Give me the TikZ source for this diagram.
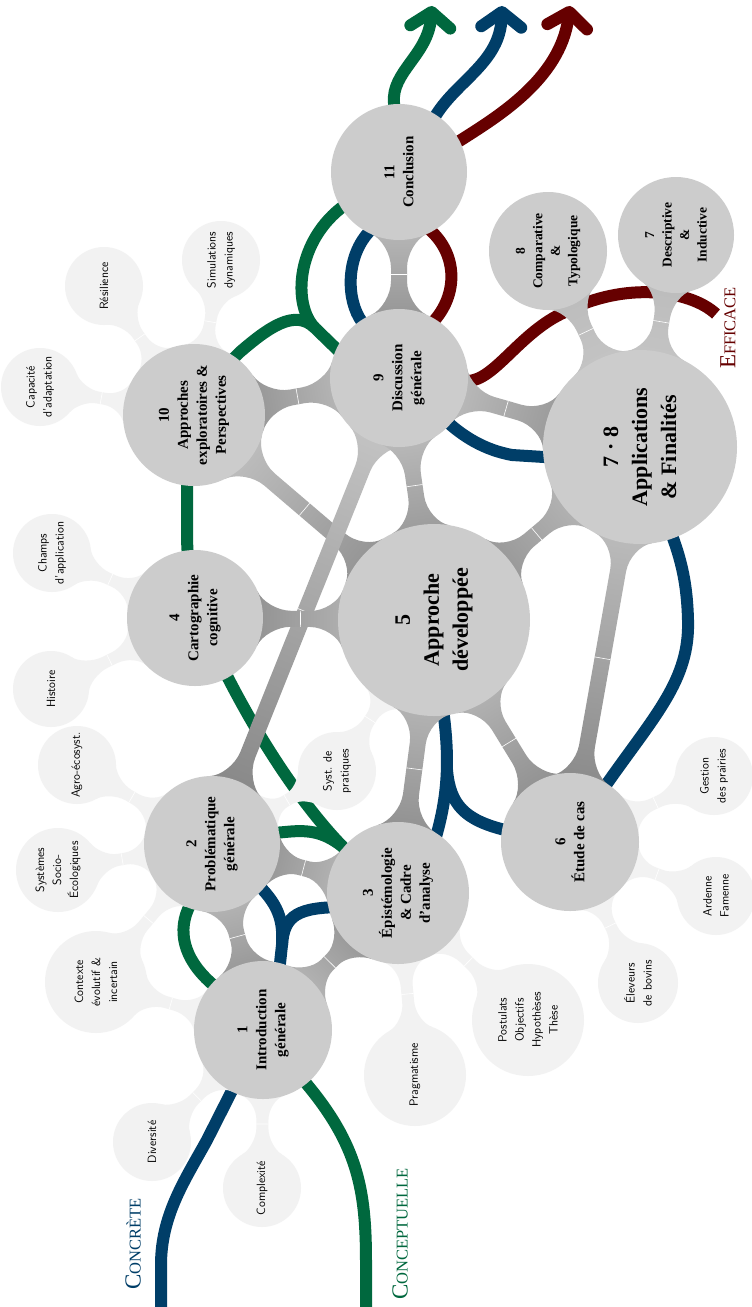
\documentclass[tikz,border=0pt]{standalone}
\usepackage{fontspec}
\setmainfont{Liberation Serif}
\usetikzlibrary{arrows.meta}
\definecolor{cgreen}{RGB}{0,104,62}
\definecolor{cblue}{RGB}{0,62,104}
\definecolor{cred}{RGB}{102,0,0}
\pgfdeclarelayer{rib}
\pgfdeclarelayer{bars}
\pgfsetlayers{rib,bars,main}
\def\cbfac{0.4}\def\cbcap{3.6}\def\cbslen{28}
\makeatletter
\newcommand\cbradius[2]{%
  \pgfpointdiff{\pgfpointanchor{#1}{center}}{\pgfpointanchor{#1}{east}}%
  \edef\cb@dx{\the\pgf@x}\edef\cb@dy{\the\pgf@y}%
  \pgfmathsetmacro#2{veclen(\cb@dx,\cb@dy)}%
}
\newcommand\cbar[5]{%
  \begingroup
  \pgfpointdiff{\pgfpointanchor{#1}{center}}{\pgfpointanchor{#2}{center}}%
  \edef\cb@dx{\the\pgf@x}\edef\cb@dy{\the\pgf@y}%
  \pgfmathsetmacro\cb@L{veclen(\cb@dx,\cb@dy)}%
  \pgfmathsetmacro\cb@ang{atan2(\cb@dy,\cb@dx)}%
  \cbradius{#1}{\cb@ra}%
  \cbradius{#2}{\cb@rb}%
  \pgfmathsetmacro\cb@w{#3}%
  \pgfmathsetmacro\cb@fa{min(\cbfac*\cb@ra,\cbcap*\cb@w)}%
  \pgfmathsetmacro\cb@fb{min(\cbfac*\cb@rb,\cbcap*\cb@w)}%
  \pgfmathsetmacro\cb@s{min(\cbslen,0.42*(\cb@L-\cb@ra-\cb@rb))}%
  \pgfmathsetmacro\cb@ca{sqrt(\cb@ra*\cb@ra-\cb@fa*\cb@fa)}%
  \pgfmathsetmacro\cb@cb{sqrt(\cb@rb*\cb@rb-\cb@fb*\cb@fb)}%
  \pgfmathsetmacro\cb@xa{\cb@ca}%
  \pgfmathsetmacro\cb@xb{\cb@L-\cb@cb}%
  \pgfmathsetmacro\cb@ka{0.55*(\cb@fa-\cb@w)}%
  \pgfmathsetmacro\cb@kb{0.55*(\cb@fb-\cb@w)}%
  \pgfmathsetmacro\cb@pax{\cb@xa+\cb@ka*\cb@fa/\cb@ra}%
  \pgfmathsetmacro\cb@pay{\cb@fa-\cb@ka*\cb@ca/\cb@ra}%
  \pgfmathsetmacro\cb@pbx{\cb@xb-\cb@kb*\cb@fb/\cb@rb}%
  \pgfmathsetmacro\cb@pby{\cb@fb-\cb@kb*\cb@cb/\cb@rb}%
  \pgfmathsetmacro\cb@na{\cb@ra+\cb@s}%
  \pgfmathsetmacro\cb@nb{\cb@L-\cb@rb-\cb@s}%
  \pgfmathsetmacro\cb@qa{\cb@na-0.5*\cb@s}%
  \pgfmathsetmacro\cb@qb{\cb@nb+0.5*\cb@s}%
  \pgfmathsetmacro\cb@mid{0.5*(\cb@ra+\cb@L-\cb@rb)}%
  \begin{scope}[overlay,transform canvas={shift={(#1)},rotate=\cb@ang}]
    \shade[left color=#4,right color=#5]
      (0,\cb@fa) -- (\cb@xa,\cb@fa) .. controls (\cb@pax,\cb@pay) and (\cb@qa,\cb@w) .. (\cb@na,\cb@w)
      -- (\cb@nb,\cb@w) .. controls (\cb@qb,\cb@w) and (\cb@pbx,\cb@pby) .. (\cb@xb,\cb@fb)
      -- (\cb@L,\cb@fb) -- (\cb@L,-\cb@fb) -- (\cb@xb,-\cb@fb)
      .. controls (\cb@pbx,-\cb@pby) and (\cb@qb,-\cb@w) .. (\cb@nb,-\cb@w)
      -- (\cb@na,-\cb@w) .. controls (\cb@qa,-\cb@w) and (\cb@pax,-\cb@pay) .. (\cb@xa,-\cb@fa)
      -- (0,-\cb@fa) -- cycle;
    \draw[white,line width=0.6pt] (\cb@mid,-\cb@w) -- (\cb@mid,\cb@w);
  \end{scope}
  \endgroup
}
\makeatother
\newcommand\fsc[2]{{\fontsize{23}{23}\selectfont #1}{\fontsize{16.5}{16.5}\selectfont #2}}
\tikzset{
  bign/.style={circle, fill=black!20, inner sep=0pt, outer sep=0pt, rotate=90, align=center,
    font=\bfseries\fontsize{15}{19}\selectfont},
  bigfont/.style={font=\bfseries\fontsize{22}{29}\selectfont},
  smallfont/.style={font=\bfseries\fontsize{13.5}{17.5}\selectfont},
  sat/.style={circle, fill=black!5, inner sep=0pt, outer sep=0pt, rotate=90, align=center,
    font=\sffamily\fontsize{12}{17}\selectfont},
  ribbon/.style={line width=12pt},
  tip/.style={-{Straight Barb[length=15pt,width=40pt,round]}},
  lbl/.style={rotate=90, inner sep=0pt}
}
\begin{document}
\begin{tikzpicture}[x=1pt,y=1pt]
\useasboundingbox (0,0) rectangle (752,-1307);

% ---------- main concepts ----------
\node[bign, minimum size=138pt] (n1) at (263,-1030) {1\\Introduction\\générale};
\node[bign, minimum size=136pt] (n2) at (212,-844) {2\\Problématique\\générale};
\node[bign, minimum size=142pt] (n3) at (398,-893) {3\\Épistémologie\\\& Cadre\\d’analyse};
\node[bign, minimum size=136pt] (n4) at (195,-618) {4\\Cartographie\\cognitive};
\node[bign, bigfont, minimum size=192pt] (n5) at (434,-620) {5\\Approche\\développée};
\node[bign, minimum size=138pt] (n6) at (570,-842) {6\\Étude de cas};
\node[bign, bigfont, minimum size=194pt] (n78) at (640,-447) {7 · 8\\Applications\\\& Finalités};
\node[bign, minimum size=138pt] (n9) at (399,-378) {9\\Discussion\\générale};
\node[bign, minimum size=142pt] (n10) at (194,-415) {10\\Approches\\exploratoires \&\\Perspectives};
\node[bign, minimum size=136pt] (n11) at (399,-172) {11\\Conclusion};
\node[bign, smallfont, minimum size=116pt] (n7) at (676,-235) {7\\Descriptive\\\&\\Inductive};
\node[bign, smallfont, minimum size=118pt] (n8) at (548,-251) {8\\Comparative\\\&\\Typologique};

% ---------- satellites ----------
\node[sat, minimum size=78pt] (sSim) at (221,-260) {Simulations\\dynamiques};
\node[sat, minimum size=78pt] (sRes) at (104,-286) {Résilience};
\node[sat, minimum size=78pt] (sCap) at (40,-387) {Capacité\\d’adaptation};
\node[sat, minimum size=78pt] (sCha) at (52,-553) {Champs\\d’application};
\node[sat, minimum size=76pt] (sHis) at (51,-689) {Histoire};
\node[sat, minimum size=78pt] (sAgr) at (77,-765) {Agro-écosyst.};
\node[sat, minimum size=84pt] (sSys) at (58,-870) {Systèmes\\Socio-\\Écologiques};
\node[sat, minimum size=102pt] (sCtx) at (96,-982) {Contexte\\évolutif \&\\incertain};
\node[sat, minimum size=78pt] (sDiv) at (152,-1142) {Diversité};
\node[sat, minimum size=78pt] (sCom) at (262,-1188) {Complexité};
\node[sat, minimum size=102pt] (sPra) at (415,-1075) {Pragmatisme};
\node[sat, minimum size=112pt] (sPos) at (528,-1020) {Postulats\\Objectifs\\Hypothèses\\Thèse};
\node[sat, minimum size=80pt] (sEle) at (638,-983) {Éleveurs\\de bovins};
\node[sat, minimum size=78pt] (sArd) at (716,-896) {Ardenne\\Famenne};
\node[sat, minimum size=78pt] (sGes) at (714,-776) {Gestion\\des prairies};
\node[sat, minimum size=78pt] (sSyp) at (337,-771) {Syst. de\\pratiques};

% ---------- labels ----------
\node[lbl, text=cblue] (lConc) at (133,-1244) {\fsc{C}{ONCRÈTE}};
\node[lbl, text=cgreen] (lConcep) at (400,-1234) {\fsc{C}{ONCEPTUELLE}};
\node[lbl, text=cred] (lEff) at (728,-328) {\fsc{E}{FFICACE}};

% ---------- connection bars ----------
\begin{pgfonlayer}{bars}
  % light satellite bars
  \def\cbfac{0.5}\def\cbcap{3.5}\def\cbslen{22}
  \cbar{sSim}{n10}{6}{black!5}{black!5}
  \cbar{sRes}{n10}{6}{black!5}{black!5}
  \cbar{sCap}{n10}{6}{black!5}{black!5}
  \cbar{sCha}{n4}{6}{black!5}{black!5}
  \cbar{sHis}{n4}{6}{black!5}{black!5}
  \cbar{sAgr}{n2}{6}{black!5}{black!5}
  \cbar{sSys}{n2}{6}{black!5}{black!5}
  \cbar{sCtx}{n2}{6}{black!5}{black!5}
  \cbar{sCtx}{n1}{6}{black!5}{black!5}
  \cbar{sDiv}{n1}{6}{black!5}{black!5}
  \cbar{sCom}{n1}{6}{black!5}{black!5}
  \cbar{sPra}{n3}{6}{black!5}{black!5}
  \cbar{sPos}{n3}{6}{black!5}{black!5}
  \cbar{sEle}{n6}{6}{black!5}{black!5}
  \cbar{sArd}{n6}{6}{black!5}{black!5}
  \cbar{sGes}{n6}{6}{black!5}{black!5}
  \cbar{sSyp}{n2}{6}{black!5}{black!5}
  \cbar{sSyp}{n5}{6}{black!5}{black!5}
  % grey bars
  \def\cbfac{0.4}\def\cbcap{3.6}\def\cbslen{28}
  \cbar{n9}{n11}{8}{black!50}{black!20}
  \cbar{n10}{n9}{8}{black!50}{black!20}
  \cbar{n10}{n5}{8}{black!20}{black!50}
  \cbar{n2}{n9}{8}{black!50}{black!20}
  \cbar{n4}{n5}{8}{black!50}{black!20}
  \cbar{n9}{n5}{8}{black!20}{black!50}
  \cbar{n9}{n78}{8}{black!20}{black!50}
  \cbar{n5}{n78}{8}{black!50}{black!20}
  \cbar{n78}{n6}{8}{black!20}{black!50}
  \cbar{n5}{n6}{8}{black!20}{black!50}
  \cbar{n5}{n3}{8}{black!20}{black!50}
  \cbar{n2}{n3}{8}{black!50}{black!20}
  \cbar{n1}{n2}{8}{black!50}{black!20}
  \cbar{n1}{n3}{8}{black!20}{black!50}
  \cbar{n78}{n8}{8}{black!20}{black!28}
  \cbar{n78}{n7}{8}{black!20}{black!28}
\end{pgfonlayer}

% ---------- ribbons ----------
\begin{pgfonlayer}{rib}
  \fill[white] (0,0) rectangle (752,-1307);
  % blue : concrete
  \draw[ribbon,cblue] (161,-1307) -- (161,-1265) .. controls (161,-1215) and (185,-1180) .. (207,-1140) -- (250,-1055);
  \draw[ribbon,cblue] (276,-1000) -- (282,-945) .. controls (284,-915) and (275,-900) .. (250,-877);
  \draw[ribbon,cblue] (282,-945) .. controls (284,-915) and (298,-907) .. (345,-907);
  \draw[ribbon,cblue] (432,-850) .. controls (448,-800) and (452,-760) .. (440,-690);
  \draw[ribbon,cblue] (540,-838) -- (505,-830) .. controls (465,-820) and (450,-805) .. (447,-770);
  \draw[ribbon,cblue] (585,-805) -- (606,-785) .. controls (655,-715) and (690,-680) .. (688,-620) .. controls (687,-580) and (680,-555) .. (668,-525);
  \draw[ribbon,cblue] (560,-458) -- (512,-455) .. controls (485,-450) and (462,-437) .. (440,-415);
  \draw[ribbon,cblue] (378,-345) -- (362,-322) .. controls (346,-300) and (346,-258) .. (368,-233) -- (382,-215);
  \draw[ribbon,cblue,tip] (425,-140) -- (436,-115) .. controls (458,-80) and (500,-62) .. (502,-6);
  % green : conceptual
  \draw[ribbon,cgreen] (366,-1307) -- (366,-1262) .. controls (366,-1190) and (358,-1145) .. (305,-1082) -- (285,-1058);
  \draw[ribbon,cgreen] (228,-998) -- (211,-983) .. controls (183,-958) and (177,-930) .. (190,-905) -- (200,-885);
  \draw[ribbon,cgreen] (360,-865) -- (343,-847) .. controls (305,-808) and (262,-745) .. (225,-672) -- (212,-640);
  \draw[ribbon,cgreen] (262,-834) -- (285,-832) .. controls (305,-830) and (322,-830) .. (343,-847) -- (360,-865);
  \draw[ribbon,cgreen] (190,-600) -- (187,-540) -- (187,-440);
  \draw[ribbon,cgreen] (220,-372) -- (240,-352) .. controls (268,-328) and (295,-308) .. (315,-328) -- (350,-362);
  \draw[ribbon,cgreen] (360,-195) -- (345,-205) .. controls (296,-240) and (292,-305) .. (315,-328);
  \draw[ribbon,cgreen,tip] (398,-140) -- (394,-103) .. controls (391,-72) and (428,-55) .. (432,-6);
  % red : efficace
  \draw[ribbon,cred] (716,-314) .. controls (690,-290) and (625,-281) .. (565,-312) .. controls (520,-332) and (495,-380) .. (468,-381) -- (440,-381);
  \draw[ribbon,cred] (420,-345) -- (433,-322) .. controls (458,-295) and (458,-255) .. (430,-230) -- (418,-212);
  \draw[ribbon,cred,tip] (440,-152) -- (461,-140) .. controls (495,-118) and (560,-80) .. (570,-6);
\end{pgfonlayer}
\end{tikzpicture}
\end{document}
